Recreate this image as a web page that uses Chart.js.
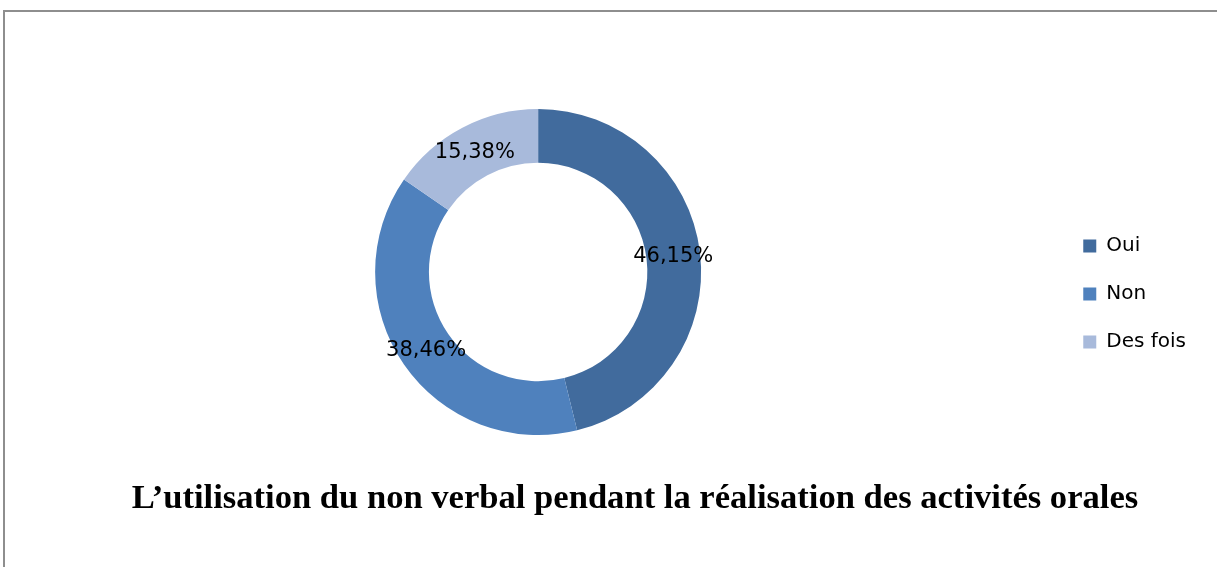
<!DOCTYPE html>
<html lang="fr">
<head>
<meta charset="UTF-8">
<title>L’utilisation du non verbal</title>
<script src="https://cdn.jsdelivr.net/npm/chart.js"></script>
<style>
  html, body { margin: 0; padding: 0; background: #fff; overflow: hidden; }
  #frame {
    position: absolute; left: 3px; top: 10px;
    width: 1240px; height: 600px;
    border-left: 2px solid #8e8e8e; border-top: 2px solid #8e8e8e;
  }
  #wrap { position: absolute; left: 0; top: 0; width: 1217px; height: 567px; }
</style>
</head>
<body>
<div id="frame"></div>
<div id="wrap"><canvas id="chart"></canvas></div>

<script>
    // data
    const categories = ["Oui", "Non", "Des fois"];
    const values = [46.15, 38.46, 15.38];
    const colors = ["#416b9d", "#4f81bd", "#a8badb"];
    const chartTitle = "L’utilisation du non verbal pendant la réalisation des activités orales";

    // percentage labels in the middle of the ring
    const ringLabels = {
        id: "ringLabels",
        afterDatasetsDraw(chart) {
            const ctx = chart.ctx;
            const meta = chart.getDatasetMeta(0);
            ctx.save();
            ctx.font = "21px 'DejaVu Sans'";
            ctx.fillStyle = "#000";
            ctx.textAlign = "center";
            ctx.textBaseline = "middle";
            meta.data.forEach((arc, i) => {
                const p = arc.getCenterPoint();
                ctx.fillText(values[i].toFixed(2).replace(".", ",") + "%", p.x, p.y + 1);
            });
            ctx.restore();
        }
    };

    // caption under the ring, centred on the whole frame rather than the plot
    const caption = {
        id: "caption",
        afterDraw(chart) {
            const ctx = chart.ctx;
            ctx.save();
            ctx.font = "bold 34.6px 'Liberation Serif'";
            ctx.fillStyle = "#000";
            ctx.textAlign = "center";
            ctx.textBaseline = "middle";
            ctx.fillText(chartTitle, 635, 499);
            ctx.restore();
        }
    };

    new Chart(document.getElementById("chart"), {
        type: "doughnut",
        data: {
            labels: categories,
            datasets: [{
                data: values,
                backgroundColor: colors,
                borderWidth: 0
            }]
        },
        options: {
            responsive: true,
            maintainAspectRatio: false,
            animation: false,
            cutout: "67%",
            layout: { padding: { top: 109, bottom: 132, left: 21, right: 21 } },
            plugins: {
                tooltip: { enabled: false },
                title: { display: false },
                legend: {
                    position: "right",
                    align: "start",
                    title: {
                        display: true,
                        text: "",
                        font: { size: 10, lineHeight: 1 },
                        padding: { top: 89, bottom: 0 }
                    },
                    labels: {
                        boxWidth: 13,
                        boxHeight: 13,
                        padding: 28,
                        color: "#000",
                        font: { family: "DejaVu Sans", size: 20 }
                    }
                }
            }
        },
        plugins: [ringLabels, caption]
    });
</script>
</body>
</html>
